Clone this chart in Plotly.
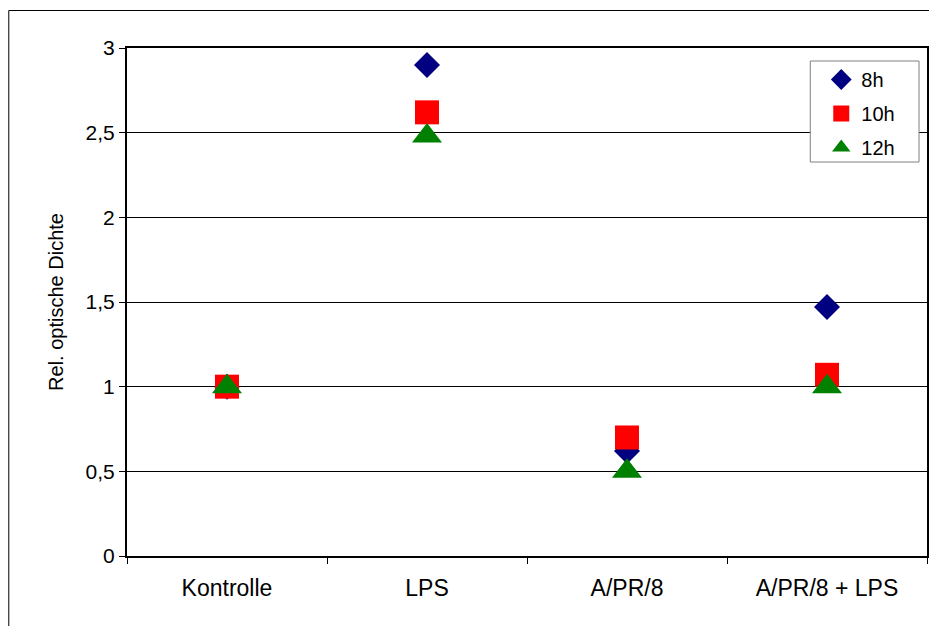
import plotly.graph_objects as go

categories = ["Kontrolle", "LPS", "A/PR/8", "A/PR/8 + LPS"]
series_names = ["8h", "10h", "12h"]
values_8h = [1.0, 2.9, 0.62, 1.47]
values_10h = [1.0, 2.62, 0.70, 1.07]
values_12h = [1.0, 2.48, 0.50, 1.0]
y_ticks = [0, 0.5, 1, 1.5, 2, 2.5, 3]

FONT = "Arial, Liberation Sans, sans-serif"

styles = [
    dict(symbol="diamond", color="#000080", size=20),
    dict(symbol="square", color="#FF0000", size=24),
    dict(symbol="triangle-up", color="#008000", size=26),
]

fig = go.Figure()
for name, vals, st in zip(series_names, [values_8h, values_10h, values_12h], styles):
    fig.add_trace(go.Scatter(
        x=categories, y=vals, mode="markers", name=name, legendgroup=name,
        marker=dict(symbol=st["symbol"], color=st["color"], size=st["size"],
                    line=dict(width=0)),
    ))

# figure is offset by the page's 8px body margin
W, H = 929, 618
L, R, T, B = 119, 8, 40, 70
pw, ph = W - L - R, H - T - B

def px_x(px):
    return (px - L) / pw

def px_y(py):
    return (H - B - py) / ph

fig.update_layout(
    width=W, height=H,
    margin=dict(l=L, r=R, t=T, b=B),
    paper_bgcolor="white", plot_bgcolor="white",
    separators=",.",
    font=dict(family=FONT, color="black", size=20),
    showlegend=True,
    legend=dict(
        x=px_x(815), y=px_y(52), xanchor="left", yanchor="top",
        bgcolor="rgba(0,0,0,0)", borderwidth=0,
        font=dict(family=FONT, size=20, color="black"),
        tracegroupgap=5, itemwidth=30,
    ),
    xaxis=dict(
        type="category", range=[-0.5, 3.5], tickson="boundaries",
        ticks="outside", ticklen=6, tickwidth=1, tickcolor="black",
        showline=True, linecolor="black", linewidth=2, mirror=True,
        showgrid=False, zeroline=False, ticklabelstandoff=10,
        tickfont=dict(family=FONT, size=23, color="black"),
    ),
    yaxis=dict(
        range=[0, 3], tickvals=y_ticks,
        ticks="outside", ticklen=6, tickwidth=1, tickcolor="black",
        showline=True, linecolor="black", linewidth=2, mirror=True,
        showgrid=True, gridcolor="black", gridwidth=1, zeroline=False,
        tickfont=dict(family=FONT, size=21, color="black"),
        title=dict(text="Rel. optische Dichte", standoff=17,
                   font=dict(family=FONT, size=20, color="black")),
    ),
    shapes=[
        dict(type="rect", xref="paper", yref="paper",
             x0=px_x(0.5), x1=px_x(945), y0=px_y(640), y1=px_y(2.5),
             line=dict(color="black", width=1), fillcolor="rgba(0,0,0,0)", layer="below"),
        dict(type="rect", xref="paper", yref="paper",
             x0=px_x(804), x1=px_x(913), y0=px_y(154), y1=px_y(53),
             line=dict(color="#808080", width=1), fillcolor="white", layer="above"),
    ],
)

fig.write_html("out.html")
